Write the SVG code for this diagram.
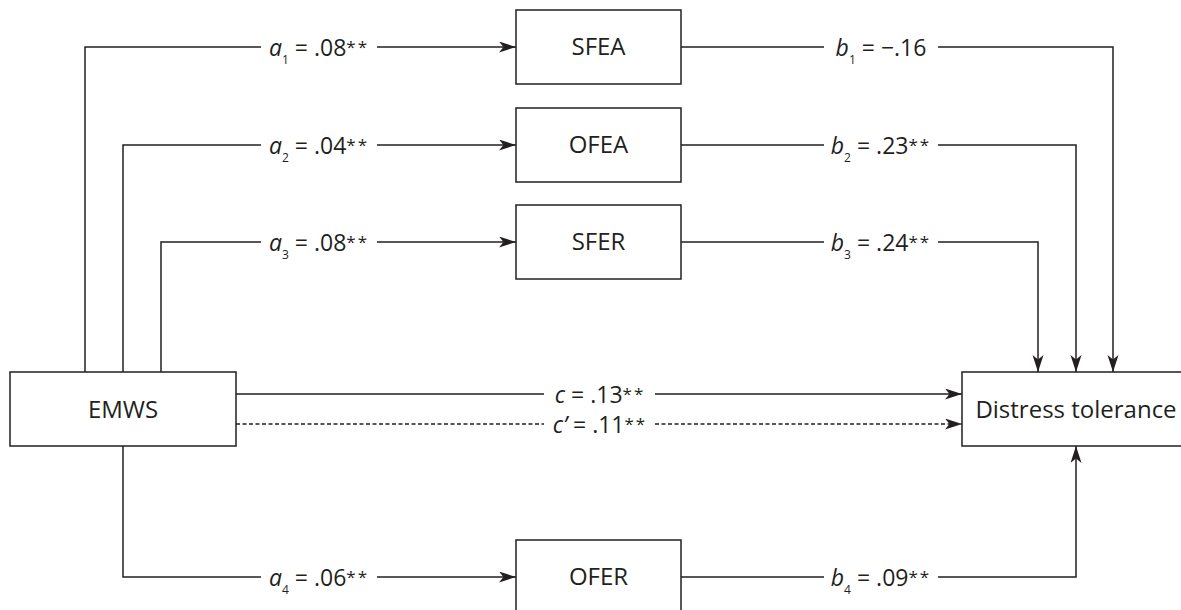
<svg xmlns="http://www.w3.org/2000/svg" width="1181" height="610" viewBox="0 0 1181 610">
<defs>
<style>
.box{fill:#fff;stroke:#231f20;stroke-width:1.5}
.ntext{font-family:"Open Sans","Noto Sans",sans-serif;font-size:24px;fill:#231f20;text-anchor:middle}
.edge{fill:none;stroke:#231f20;stroke-width:1.5}
.dash{stroke-dasharray:4 2.5}
.lbl{font-family:"Open Sans","Noto Sans",sans-serif;font-size:23px;fill:#231f20;text-anchor:middle}
.it{font-style:italic}
.sub{font-size:12px}
.sup{font-size:17px;letter-spacing:2px}
</style>
<marker id="arr" markerUnits="userSpaceOnUse" markerWidth="19" markerHeight="12" refX="17" refY="5.5" orient="auto" viewBox="0 0 19 12">
<path d="M0,0 L17,5.5 L0,11 L4.5,5.5 Z" fill="#231f20"/>
</marker>
</defs>
<rect width="1181" height="610" fill="#fff"/>

<g id="connectors">
<path class="edge" marker-end="url(#arr)" d="M85,372 V47 H261 M377,47 H516"/>
<path class="edge" marker-end="url(#arr)" d="M123,372 V145 H261 M377,145 H516"/>
<path class="edge" marker-end="url(#arr)" d="M161,372 V242 H261 M377,242 H516"/>
<path class="edge" marker-end="url(#arr)" d="M123,446 V577 H261 M377,577 H516"/>
<path class="edge" marker-end="url(#arr)" d="M681,47 H824 M938,47 H1113 V372"/>
<path class="edge" marker-end="url(#arr)" d="M681,145 H824 M938,145 H1076 V372"/>
<path class="edge" marker-end="url(#arr)" d="M681,242 H824 M938,242 H1038 V372"/>
<path class="edge" marker-end="url(#arr)" d="M681,577 H824 M938,577 H1076 V446"/>
<path class="edge" marker-end="url(#arr)" d="M236,394 H544 M655,394 H962"/>
<path class="edge dash" marker-end="url(#arr)" d="M236,424 H544 M655,424 H962"/>

<text class="lbl" x="319" y="56"><tspan class="it">a</tspan><tspan class="sub" dy="8">1</tspan><tspan dy="-8"> = .08</tspan><tspan class="sup" dy="-3">**</tspan></text>
<text class="lbl" x="319" y="154"><tspan class="it">a</tspan><tspan class="sub" dy="8">2</tspan><tspan dy="-8"> = .04</tspan><tspan class="sup" dy="-3">**</tspan></text>
<text class="lbl" x="319" y="251"><tspan class="it">a</tspan><tspan class="sub" dy="8">3</tspan><tspan dy="-8"> = .08</tspan><tspan class="sup" dy="-3">**</tspan></text>
<text class="lbl" x="319" y="586"><tspan class="it">a</tspan><tspan class="sub" dy="8">4</tspan><tspan dy="-8"> = .06</tspan><tspan class="sup" dy="-3">**</tspan></text>

<text class="lbl" x="881" y="56"><tspan class="it">b</tspan><tspan class="sub" dy="8">1</tspan><tspan dy="-8"> = −.16</tspan></text>
<text class="lbl" x="881" y="154"><tspan class="it">b</tspan><tspan class="sub" dy="8">2</tspan><tspan dy="-8"> = .23</tspan><tspan class="sup" dy="-3">**</tspan></text>
<text class="lbl" x="881" y="251"><tspan class="it">b</tspan><tspan class="sub" dy="8">3</tspan><tspan dy="-8"> = .24</tspan><tspan class="sup" dy="-3">**</tspan></text>
<text class="lbl" x="881" y="586"><tspan class="it">b</tspan><tspan class="sub" dy="8">4</tspan><tspan dy="-8"> = .09</tspan><tspan class="sup" dy="-3">**</tspan></text>

<text class="lbl" x="600" y="403"><tspan class="it">c</tspan> = .13<tspan class="sup" dy="-3">**</tspan></text>
<text class="lbl" x="600" y="433"><tspan class="it">c’</tspan> = .11<tspan class="sup" dy="-3">**</tspan></text>
</g>

<g id="node-emws">
<rect class="box" x="10" y="372" width="226" height="74"/>
<text class="ntext" x="123" y="418">EMWS</text>
</g>
<g id="node-sfea">
<rect class="box" x="516" y="10" width="165" height="74"/>
<text class="ntext" x="598.5" y="55">SFEA</text>
</g>
<g id="node-ofea">
<rect class="box" x="516" y="108" width="165" height="74"/>
<text class="ntext" x="598.5" y="153">OFEA</text>
</g>
<g id="node-sfer">
<rect class="box" x="516" y="205" width="165" height="74"/>
<text class="ntext" x="598.5" y="250">SFER</text>
</g>
<g id="node-ofer">
<rect class="box" x="516" y="540" width="165" height="74"/>
<text class="ntext" x="598.5" y="585">OFER</text>
</g>
<g id="node-distress">
<rect class="box" x="962" y="372" width="228" height="74"/>
<text class="ntext" x="1076" y="418">Distress tolerance</text>
</g>
</svg>
